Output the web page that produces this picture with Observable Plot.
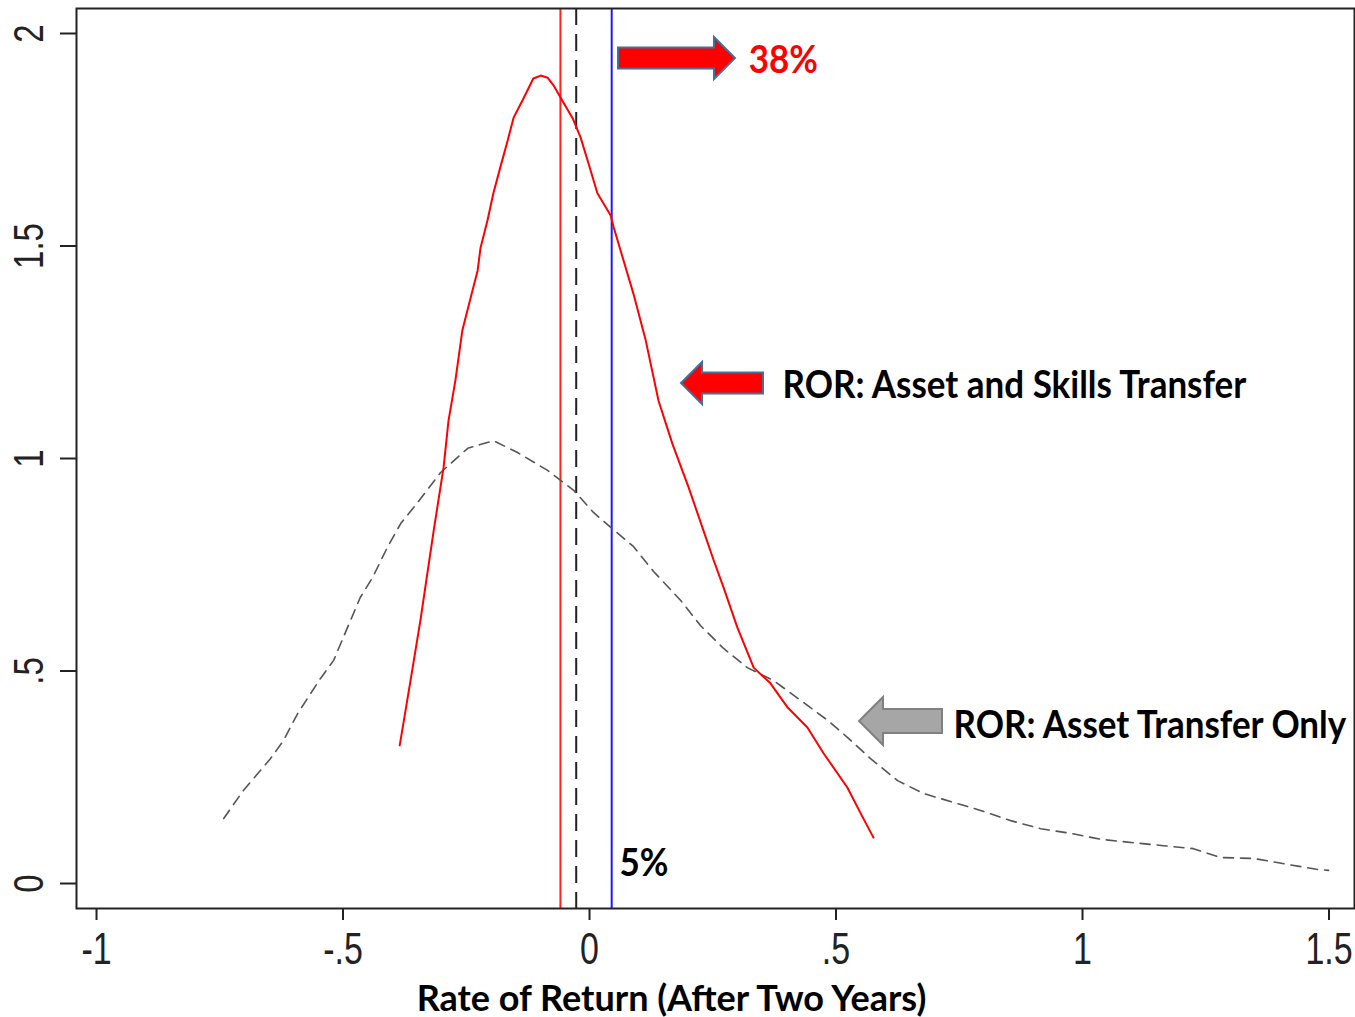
<!DOCTYPE html>
<html>
<head>
<meta charset="utf-8">
<script src="https://cdn.jsdelivr.net/npm/d3@7"></script>
<script src="https://cdn.jsdelivr.net/npm/@observablehq/plot@0.6"></script>
<style>
  body { margin: 0; background: #fff; }
  #chart svg { display: block; background: #fff; }
</style>
</head>
<body>
<div id="chart"></div>
<script>
const skillsX = [-0.385,-0.363,-0.343,-0.316,-0.296,-0.286,-0.272,-0.258,-0.241,-0.227,-0.221,-0.207,-0.195,-0.181,-0.166,-0.154,-0.134,-0.114,-0.099,-0.085,-0.073,-0.055,-0.034,-0.018,-0.002,0.016,0.043,0.049,0.069,0.089,0.114,0.140,0.168,0.201,0.231,0.252,0.272,0.300,0.333,0.367,0.402,0.442,0.475,0.523,0.550,0.576];
const skillsY = [0.325,0.478,0.619,0.831,0.979,1.089,1.184,1.301,1.379,1.442,1.496,1.560,1.624,1.685,1.748,1.802,1.847,1.894,1.901,1.896,1.878,1.842,1.800,1.755,1.694,1.624,1.572,1.544,1.466,1.388,1.278,1.136,1.035,0.932,0.831,0.760,0.696,0.602,0.508,0.471,0.414,0.367,0.306,0.226,0.165,0.108];
const assetX = [-0.742,-0.702,-0.647,-0.621,-0.592,-0.546,-0.519,-0.491,-0.465,-0.440,-0.410,-0.383,-0.349,-0.302,-0.247,-0.195,-0.146,-0.085,-0.032,0.008,0.043,0.089,0.130,0.185,0.225,0.272,0.320,0.373,0.428,0.483,0.523,0.570,0.625,0.677,0.738,0.793,0.854,0.915,0.976,1.037,1.103,1.164,1.225,1.280,1.347,1.416,1.477,1.499];
const assetY = [0.153,0.219,0.294,0.336,0.400,0.482,0.525,0.602,0.673,0.720,0.791,0.847,0.896,0.967,1.024,1.042,1.014,0.972,0.925,0.873,0.838,0.793,0.734,0.666,0.607,0.553,0.508,0.478,0.431,0.384,0.344,0.294,0.242,0.212,0.191,0.172,0.148,0.129,0.118,0.104,0.096,0.089,0.082,0.061,0.059,0.045,0.033,0.031];
const redRule = -0.059, blackRule = -0.027, blueRule = 0.045;
const xTicks = [-1, -0.5, 0, 0.5, 1, 1.5];
const xTickLabels = ["-1", "-.5", "0", ".5", "1", "1.5"];
const yTicks = [0, 0.5, 1, 1.5, 2];
const yTickLabels = ["0", ".5", "1", "1.5", "2"];
const xTitle = "Rate of Return (After Two Years)";
const noteTexts = ["38%", "ROR: Asset and Skills Transfer", "ROR: Asset Transfer Only", "5%"];
const noteX = [0.323, 0.3915, 0.7383, 0.0609];
const noteY = [1.908, 1.1435, 0.3435, 0.0188];
const noteColors = ["#ff0000", "#000000", "#000000", "#000000"];
const arrowTail = [0.0588, 0.3529, 0.716];
const arrowTip  = [0.2961, 0.1866, 0.5477];
const arrowY    = [1.9412, 1.1765, 0.3812];
const arrowKind = ["red", "red", "grey"];

const skills = skillsX.map((x, i) => ({x, y: skillsY[i]}));
const asset = assetX.map((x, i) => ({x, y: assetY[i]}));
const notes = noteTexts.map((t, i) => ({t, x: noteX[i], y: noteY[i], c: noteColors[i]}));
const arrows = arrowTail.map((t, i) => ({tail: t, tip: arrowTip[i], y: arrowY[i], kind: arrowKind[i]}));

const arrowStyle = {
  red:  {fill: "#ff0000", stroke: "#41719c", head: 21, headHalf: 21, bodyHalf: 10.5},
  grey: {fill: "#a6a6a6", stroke: "#808080", head: 24, headHalf: 24, bodyHalf: 12}
};
function arrowMark(index, scales) {
  const g = d3.create("svg:g");
  for (const a of arrows) {
    const s = arrowStyle[a.kind];
    const xt = scales.x(a.tip), xb = scales.x(a.tail), yc = scales.y(a.y);
    const dir = Math.sign(xt - xb);
    const xh = xt - dir * s.head;
    const d = `M${xb},${yc - s.bodyHalf}L${xh},${yc - s.bodyHalf}L${xh},${yc - s.headHalf}L${xt},${yc}L${xh},${yc + s.headHalf}L${xh},${yc + s.bodyHalf}L${xb},${yc + s.bodyHalf}Z`;
    g.append("path").attr("d", d).attr("fill", s.fill).attr("stroke", s.stroke).attr("stroke-width", 2);
  }
  return g.node();
}

const tickFont = "'Liberation Sans', Arial, sans-serif";
const noteFont = "Lato, 'Open Sans', sans-serif";

const plot = Plot.plot({
  width: 1355, height: 1017,
  marginLeft: 76, marginRight: 1, marginTop: 8, marginBottom: 109,
  style: {background: "#fff", overflow: "visible"},
  x: {domain: [-1.0406, 1.5517], label: null},
  y: {domain: [-0.0588, 2.0588], label: null},
  marks: [
    Plot.axisX({ticks: xTicks, tickSize: 12, tickFormat: () => "", stroke: "#222", strokeWidth: 2, label: null}),
    Plot.axisY({ticks: yTicks, tickSize: 16, tickFormat: () => "", stroke: "#222", strokeWidth: 2, label: null}),
    Plot.text(xTicks, {x: d => d, text: (d, i) => xTickLabels[i], frameAnchor: "bottom", dy: 55,
      lineAnchor: "bottom", textAnchor: "middle", fontSize: 34, fontFamily: tickFont, fill: "#222"}),
    Plot.text(yTicks, {y: d => d, text: (d, i) => yTickLabels[i], frameAnchor: "left", dx: -34, rotate: -90,
      lineAnchor: "bottom", textAnchor: "middle", fontSize: 33, fontFamily: tickFont, fill: "#222"}),
    Plot.ruleX([redRule], {stroke: "#ff2020", strokeWidth: 2}),
    Plot.ruleX([blackRule], {stroke: "#222", strokeWidth: 2, strokeDasharray: "17,9"}),
    Plot.ruleX([blueRule], {stroke: "#1a1aff", strokeWidth: 2}),
    Plot.line(asset, {x: "x", y: "y", stroke: "#555", strokeWidth: 1.6, strokeDasharray: "10,7"}),
    Plot.line(skills, {x: "x", y: "y", stroke: "#ff0000", strokeWidth: 2}),
    arrowMark,
    Plot.text(notes, {x: "x", y: "y", text: "t", fill: "c", textAnchor: "start", lineAnchor: "bottom",
      fontSize: 35, fontWeight: 700, fontFamily: noteFont}),
    Plot.text([xTitle], {text: d => d, frameAnchor: "bottom", dx: -44, dy: 102, lineAnchor: "bottom",
      textAnchor: "middle", fontSize: 36, fontWeight: 700, fontFamily: noteFont, fill: "#000"}),
    Plot.frame({stroke: "#222", strokeWidth: 2})
  ]
});

// The reference picture is stretched vertically: stretch the glyphs about their baselines
const tickSet = new Set([...xTickLabels, ...yTickLabels]);
const noteSet = new Set(noteTexts);
plot.querySelectorAll("text").forEach(t => {
  const s = t.textContent;
  const tr = t.getAttribute("transform") || "";
  let k = null;
  if (tickSet.has(s)) k = tr.includes("rotate") ? 1.3 : 1.3;
  else if (noteSet.has(s)) k = 1.08;
  else if (s === xTitle) k = 1.0;
  if (k == null || k === 1) return;
  if (tr.includes("translate")) {
    t.setAttribute("transform", `${tr} scale(1,${k})`);
  } else {
    const x = +t.getAttribute("x") || 0, y = +t.getAttribute("y") || 0;
    t.removeAttribute("x"); t.removeAttribute("y");
    t.setAttribute("transform", `translate(${x},${y}) ${tr} scale(1,${k})`);
  }
});
document.getElementById("chart").appendChild(plot);
</script>
</body>
</html>
